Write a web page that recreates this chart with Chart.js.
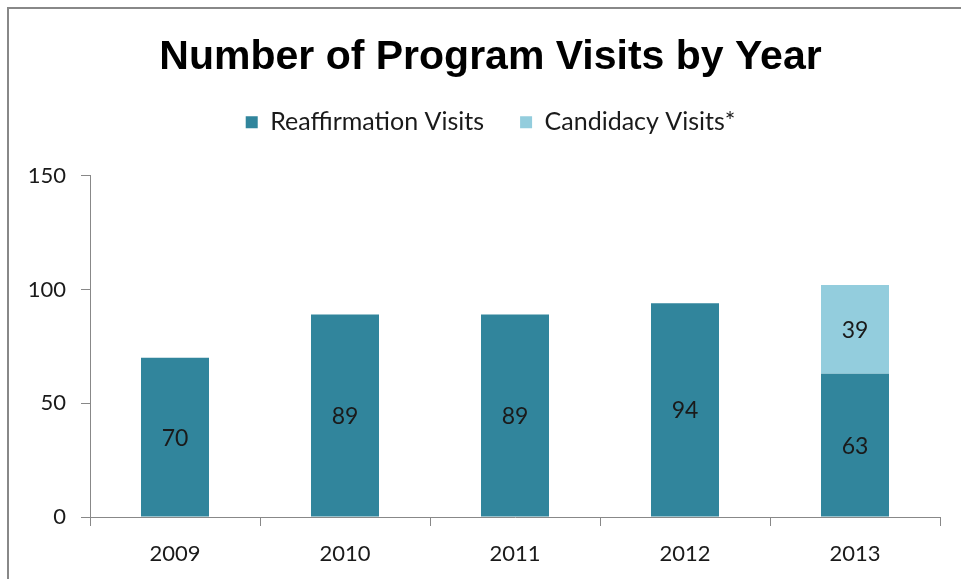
<!DOCTYPE html>
<html>
<head>
<meta charset="utf-8">
<script src="https://cdn.jsdelivr.net/npm/chart.js@4"></script>
<style>
  html, body { margin: 0; padding: 0; background: #fff; }
  #wrap { position: relative; width: 961px; height: 579px; overflow: hidden; }
  #frame {
    position: absolute; left: 7px; top: 7px; width: 1000px; height: 600px;
    border-top: 2px solid #888; border-left: 2px solid #888; pointer-events: none;
  }
</style>
</head>
<body>
<div id="wrap">
  <canvas id="chart" width="961" height="579"></canvas>
  <div id="frame"></div>
</div>
<script>
const years = ['2009', '2010', '2011', '2012', '2013'];
const reaffirmation = [70, 89, 89, 94, 63];
const candidacy = [null, null, null, null, 39];
const yTicks = [0, 50, 100, 150];

const bodyFont = 'Lato, "Open Sans", sans-serif';

// writes each value in the middle of its bar segment
const barValues = {
  id: 'barValues',
  afterDatasetsDraw(chart) {
    const ctx = chart.ctx;
    ctx.save();
    ctx.font = '23px ' + bodyFont;
    ctx.fillStyle = '#1a1a1a';
    ctx.textAlign = 'center';
    ctx.textBaseline = 'middle';
    chart.data.datasets.forEach((ds, i) => {
      chart.getDatasetMeta(i).data.forEach((bar, j) => {
        const v = ds.data[j];
        if (v == null) return;
        ctx.fillText(String(v), bar.x, (bar.y + bar.base) / 2 + 1);
      });
    });
    ctx.restore();
  }
};

new Chart(document.getElementById('chart'), {
  type: 'bar',
  data: {
    labels: years,
    datasets: [
      { label: 'Reaffirmation Visits', data: reaffirmation, backgroundColor: '#31859C', borderWidth: 0 },
      { label: 'Candidacy Visits*', data: candidacy, backgroundColor: '#93CDDD', borderWidth: 0 }
    ]
  },
  options: {
    responsive: false,
    animation: false,
    events: [],
    layout: { padding: { top: 0, left: 20, right: 0, bottom: 0 } },
    datasets: { bar: { barPercentage: 0.4, categoryPercentage: 1 } },
    plugins: {
      title: {
        display: true,
        text: 'Number of Program Visits by Year',
        color: '#000',
        font: { family: '"Liberation Sans", Arial, sans-serif', size: 41, weight: 'bold', lineHeight: 0.8 },
        padding: { top: 41, bottom: 0 }
      },
      // empty gap between legend and plot
      subtitle: {
        display: true,
        text: ' ',
        weight: 500,
        font: { size: 1, lineHeight: 1 },
        padding: { top: 30, bottom: 0 }
      },
      legend: {
        display: true,
        labels: {
          color: '#1a1a1a',
          font: { family: bodyFont, size: 25, lineHeight: 1.2 },
          boxWidth: 12, boxHeight: 12,
          padding: 36
        }
      },
      tooltip: { enabled: false }
    },
    scales: {
      x: {
        stacked: true,
        offset: true,
        grid: { display: true, drawOnChartArea: false, drawTicks: true, tickLength: 9, offset: true, color: '#888' },
        border: { display: true, color: '#888', width: 1 },
        ticks: { color: '#1a1a1a', font: { family: bodyFont, size: 22 }, padding: 15 },
        afterFit(scale) { scale.height = 62; }
      },
      y: {
        stacked: true,
        min: 0, max: 150,
        afterBuildTicks(scale) { scale.ticks = yTicks.map(v => ({ value: v })); },
        grid: { display: true, drawOnChartArea: false, drawTicks: true, tickLength: 9, color: '#888' },
        border: { display: true, color: '#888', width: 1 },
        ticks: { color: '#1a1a1a', font: { family: bodyFont, size: 22 }, padding: 15 },
        afterFit(scale) { scale.width = 70; }
      },
      // blank strip on the right so the plot ends where the reference does
      yRight: {
        position: 'right',
        grid: { display: false },
        border: { display: false },
        ticks: { display: false },
        afterFit(scale) { scale.width = 21; }
      }
    }
  },
  plugins: [barValues]
});
</script>
</body>
</html>
